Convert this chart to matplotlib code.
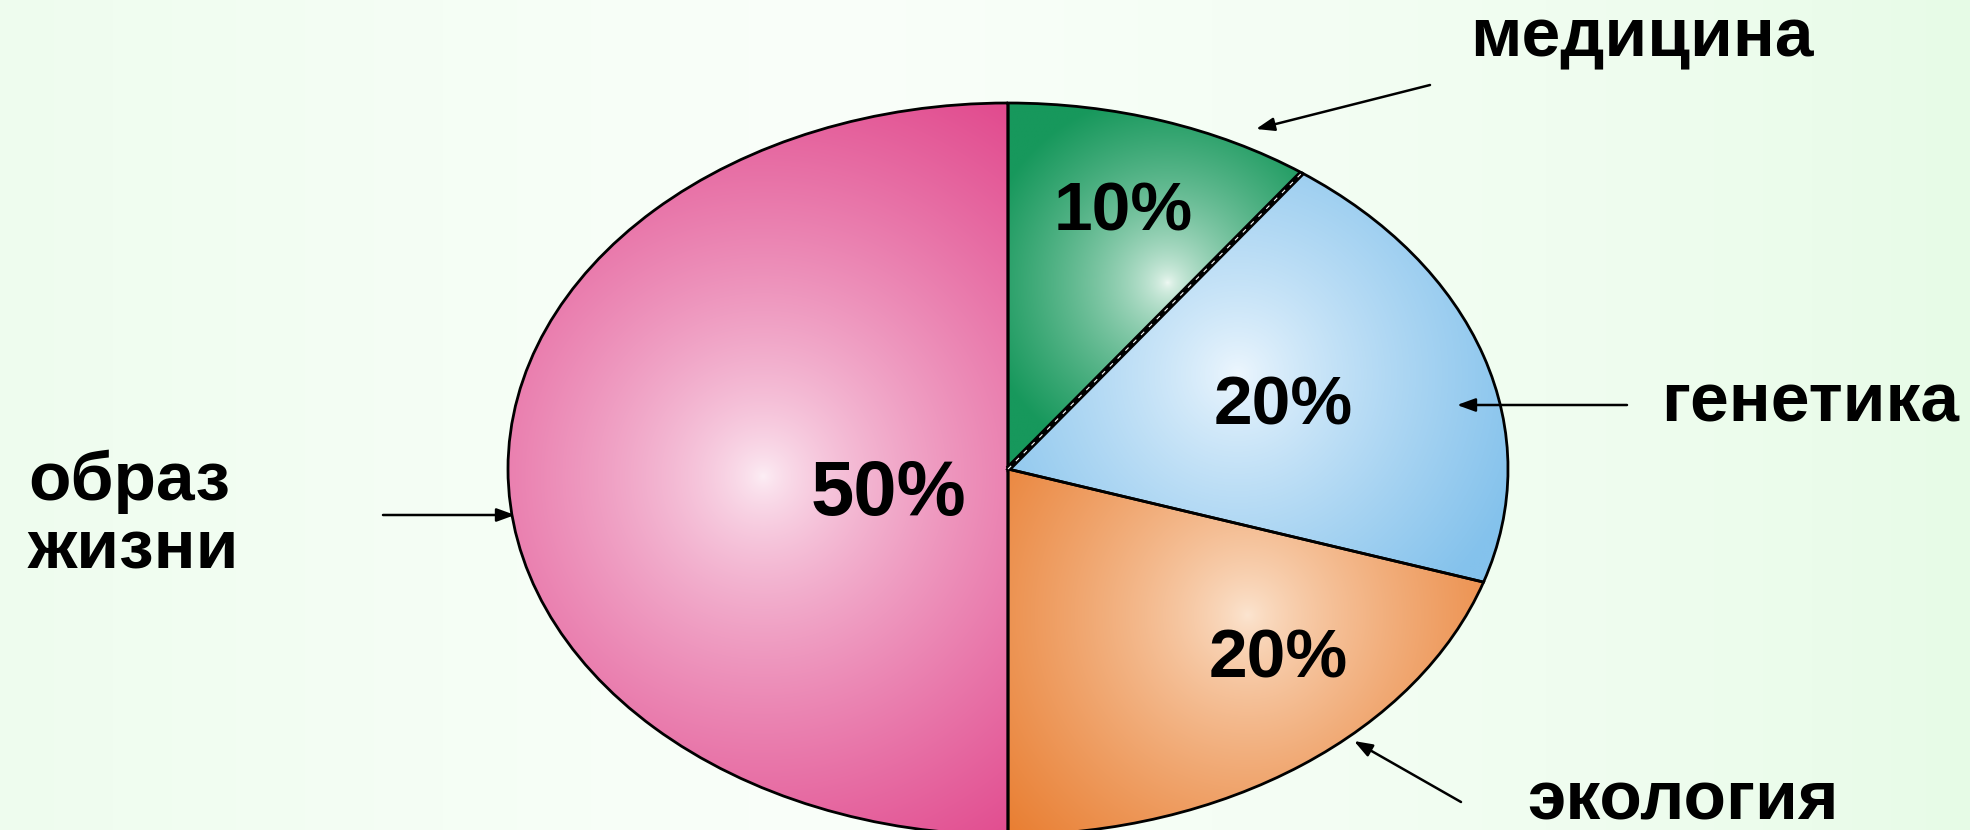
import numpy as np
import matplotlib
matplotlib.use("Agg")
import matplotlib.pyplot as plt
from matplotlib.colors import to_rgb
from matplotlib.patches import FancyArrowPatch

# ---- data ----
categories = ["медицина", "генетика", "экология", "образ\nжизни"]
values = [10, 20, 20, 50]
pct_labels = [f"{v}%" for v in values]

# ---- style ----
base_colors = ["#17985C", "#84C2EC", "#E97F33", "#E0448A"]
light_colors = ["#F4FBF7", "#EEF7FE", "#FCE6D2", "#FDF0F6"]
FONT = ["Liberation Sans", "DejaVu Sans"]

W_PX, H_PX = 1970, 830
fig = plt.figure(figsize=(W_PX / 100, H_PX / 100), dpi=100)


def fx(px):
    return px / W_PX


def fy(py):
    return 1 - py / H_PX


# background: pale green horizontal gradient
bg = fig.add_axes([0, 0, 1, 1])
gx = np.linspace(0, 1, 400)
edge = np.array(to_rgb("#E6FBE6"))
mid = np.array(to_rgb("#FAFFFA"))
prof = np.clip(1 - np.abs(gx - 0.42) / 0.58, 0, 1) ** 0.7
grad = edge[None, :] * (1 - prof[:, None]) + mid[None, :] * prof[:, None]
bg.imshow(grad[None, :, :], aspect="auto", extent=(0, 1, 0, 1))
bg.set_axis_off()

# pie axes (elliptical pie)
cx, cy = 1008, 469
rx, ry = 500, 366
ax = fig.add_axes([fx(cx - rx), fy(cy + ry), 2 * rx / W_PX, 2 * ry / H_PX])
wedges, _ = ax.pie(values, colors=base_colors, startangle=90, counterclock=False,
                   wedgeprops=dict(edgecolor="black", linewidth=2.0))
ax.set_aspect("auto")
ax.set_axis_off()

# radial highlight shading inside each wedge
highlights = [(0.32, 0.51, 190, 0.6), (0.46, 0.26, 300, 0.8),
              (0.48, -0.40, 320, 0.75), (-0.49, -0.02, 470, 0.7)]
Xs, Ys = np.meshgrid(np.linspace(-1, 1, 700), np.linspace(-1, 1, 520))
for w, (hx, hy, R, g), bc, lc in zip(wedges, highlights, base_colors, light_colors):
    d = np.hypot((Xs - hx) * rx, (Ys - hy) * ry)
    t = np.clip(d / R, 0, 1) ** g
    b = np.array(to_rgb(bc))
    l = np.array(to_rgb(lc))
    img = l * (1 - t[..., None]) + b * t[..., None]
    im = ax.imshow(img, extent=(-1, 1, -1, 1), origin="lower", aspect="auto",
                   interpolation="bilinear", zorder=1)
    im.set_clip_path(w)
    w.set_facecolor("none")
    w.set_zorder(3)
ax.set_xlim(-1, 1)
ax.set_ylim(-1, 1)

# thick dashed boundary between first two wedges
theta = np.deg2rad(wedges[0].theta1)
ax.plot([0, np.cos(theta)], [0, np.sin(theta)], color="black", lw=4.5, zorder=4,
        solid_capstyle="butt")
ax.plot([0, np.cos(theta)], [0, np.sin(theta)], color="white", lw=0.8, zorder=5,
        dashes=(4, 6))

# percentage labels inside wedges
pct_pos = [(0.23, 0.70), (0.55, 0.17), (0.54, -0.52), (-0.24, -0.07)]
pct_size = [50, 50, 50, 56]
for (px_, py_), lab, fs in zip(pct_pos, pct_labels, pct_size):
    ax.text(px_, py_, lab, ha="center", va="center", fontsize=fs,
            fontweight="bold", family=FONT, color="black", zorder=6)

# outside category labels with arrows
label_pos = [(1470, 56), (1661, 421), (1527, 819), (28, 500)]
arrows = [((1430, 85), (1256, 129)), ((1627, 405), (1457, 405)),
          ((1461, 802), (1354, 741)), ((383, 515), (515, 515))]
for (lx, ly), cat in zip(label_pos, categories):
    for i, line in enumerate(cat.split("\n")):
        fig.text(fx(lx), fy(ly + i * 68), line, ha="left", va="baseline",
                 fontsize=50, fontweight="bold", family=FONT, color="black")
for tail, head in arrows:
    fig.add_artist(FancyArrowPatch(
        (fx(tail[0]), fy(tail[1])), (fx(head[0]), fy(head[1])),
        transform=fig.transFigure, arrowstyle="-|>,head_length=11,head_width=4",
        color="black", lw=1.8, shrinkA=0, shrinkB=0, zorder=10))

fig.savefig("out.png", dpi=100)
